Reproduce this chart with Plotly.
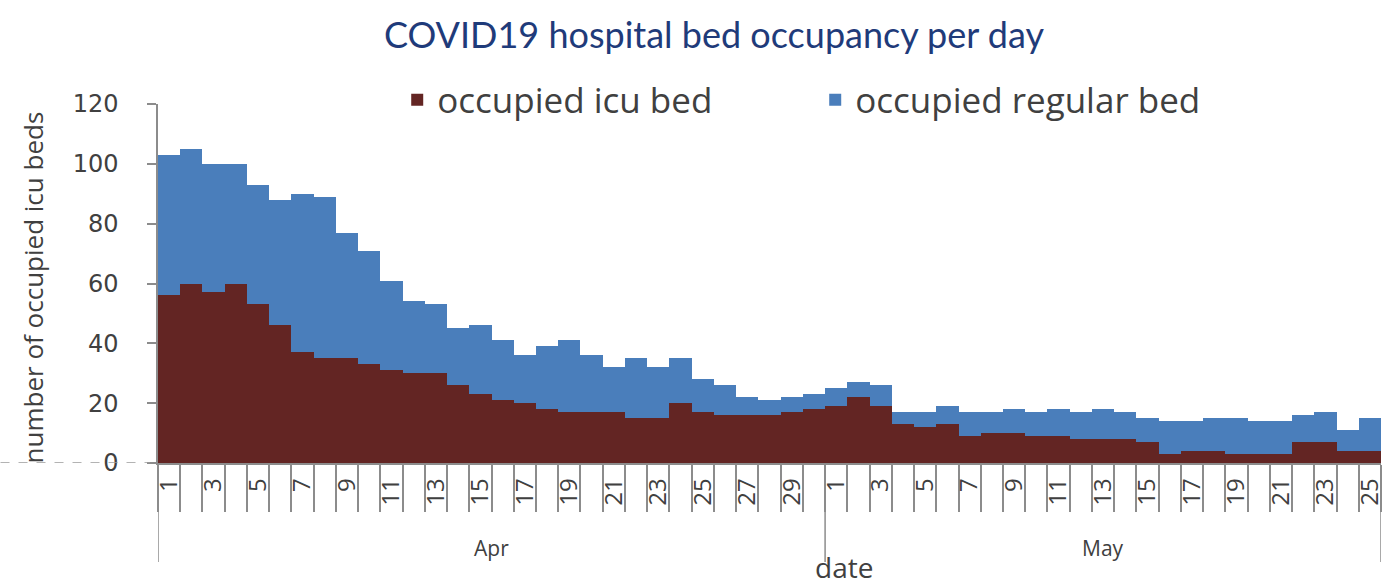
import plotly.graph_objects as go

# ---- data ----
day_index = list(range(1, 56))
day_labels = [str(d) for d in range(1, 31)] + [str(d) for d in range(1, 26)]
months = ["Apr", "May"]

icu_beds = [56, 60, 57, 60, 53, 46, 37, 35, 35, 33, 31, 30, 30, 26, 23,
            21, 20, 18, 17, 17, 17, 15, 15, 20, 17, 16, 16, 16, 17, 18,
            19, 22, 19, 13, 12, 13, 9, 10, 10, 9, 9, 8, 8, 8, 7,
            3, 4, 4, 3, 3, 3, 7, 7, 4, 4]
regular_beds = [47, 45, 43, 40, 40, 42, 53, 54, 42, 38, 30, 24, 23, 19, 23,
                20, 16, 21, 24, 19, 15, 20, 17, 15, 11, 10, 6, 5, 5, 5,
                6, 5, 7, 4, 5, 6, 8, 7, 8, 8, 9, 9, 10, 9, 8,
                11, 10, 11, 12, 11, 11, 9, 10, 7, 11]

y_ticks = [0, 20, 40, 60, 80, 100, 120]

RED = "#632523"
BLUE = "#4A7EBB"
GREY = "#8C8C8C"
TXT = "#404040"

fig = go.Figure()
fig.add_trace(go.Bar(x=day_index, y=icu_beds, name="occupied icu bed",
                     marker=dict(color=RED, line=dict(width=0))))
fig.add_trace(go.Bar(x=day_index, y=regular_beds, name="occupied regular bed",
                     marker=dict(color=BLUE, line=dict(width=0))))

odd_vals = [i for i in day_index if int(day_labels[i - 1]) % 2 == 1]
odd_text = [day_labels[i - 1] for i in odd_vals]
boundaries = [i + 0.5 for i in range(0, 56)]

L, R, T, B = 158, 5, 104, 124
W, H = 1390, 587
pw = W - L - R
ph = H - T - B

def px_x(p):
    return (p - L) / pw

def px_y(p):
    return (H - B - p) / ph

fig.update_layout(
    width=W, height=H,
    margin=dict(l=L, r=R, t=T, b=B),
    barmode="stack", bargap=0,
    plot_bgcolor="white", paper_bgcolor="white",
    title=dict(text="COVID19 hospital bed occupancy per day",
               font=dict(family="Lato", size=36, color="#1F3B7A"),
               x=714 / W, xanchor="center", xref="container",
               y=1 - 35 / H, yanchor="middle", yref="container"),
    legend=dict(orientation="h", x=px_x(398), xanchor="left",
                y=px_y(100), yanchor="middle",
                font=dict(family="Open Sans", size=35, color=TXT),
                entrywidth=373, entrywidthmode="pixels",
                traceorder="normal", bgcolor="rgba(0,0,0,0)"),
    showlegend=True,
)

fig.update_xaxes(
    range=[0.5, 55.5], showgrid=False, zeroline=False,
    showline=True, linecolor=GREY, linewidth=1.5,
    tickmode="array", tickvals=odd_vals, ticktext=odd_text,
    tickangle=-90, ticks="", ticklabelstandoff=4,
    tickfont=dict(family="Open Sans", size=24, color=TXT),
    minor=dict(tickmode="array", tickvals=boundaries, ticks="outside",
               ticklen=47, tickwidth=1.5, tickcolor=GREY),
)
fig.update_yaxes(
    range=[0, 120], tickmode="array", tickvals=y_ticks,
    showgrid=False, zeroline=False,
    showline=True, linecolor=GREY, linewidth=1.5,
    ticks="outside", ticklen=9, tickwidth=1.5, tickcolor=GREY,
    ticklabelstandoff=24,
    tickfont=dict(family="DejaVu Sans", size=24, color=TXT),
)

# month group dividers and labels
for xb in [0.5, 30.5, 55.5]:
    fig.add_shape(type="line", xref="x", yref="paper",
                  x0=xb, x1=xb, y0=0, y1=px_y(562),
                  line=dict(color=GREY, width=1.5))
fig.add_annotation(text=months[0], xref="x", yref="paper", x=15.5, y=px_y(548),
                   xanchor="center", yanchor="middle",
                   showarrow=False, font=dict(family="Open Sans", size=21, color=TXT))
fig.add_annotation(text=months[1], xref="x", yref="paper", x=43, y=px_y(548),
                   xanchor="center", yanchor="middle",
                   showarrow=False, font=dict(family="Open Sans", size=21, color=TXT))
fig.add_annotation(text="date", xref="paper", yref="paper", x=px_x(846), y=px_y(567),
                   xanchor="center", yanchor="middle",
                   showarrow=False, font=dict(family="Open Sans", size=28, color=TXT))
fig.add_annotation(text="number of occupied icu beds", xref="paper", yref="paper",
                   x=px_x(33), y=px_y(287), xanchor="center", yanchor="middle",
                   textangle=-90, showarrow=False,
                   font=dict(family="Open Sans", size=26, color=TXT))
# dashed baseline stub at left
fig.add_shape(type="line", xref="paper", yref="y",
              x0=px_x(0), x1=px_x(150), y0=0, y1=0,
              line=dict(color="#9A9A9A", width=1.5, dash="dash"))

fig.write_html("out.html", config={"displayModeBar": False},
               post_script="document.body.style.margin='0px';")
